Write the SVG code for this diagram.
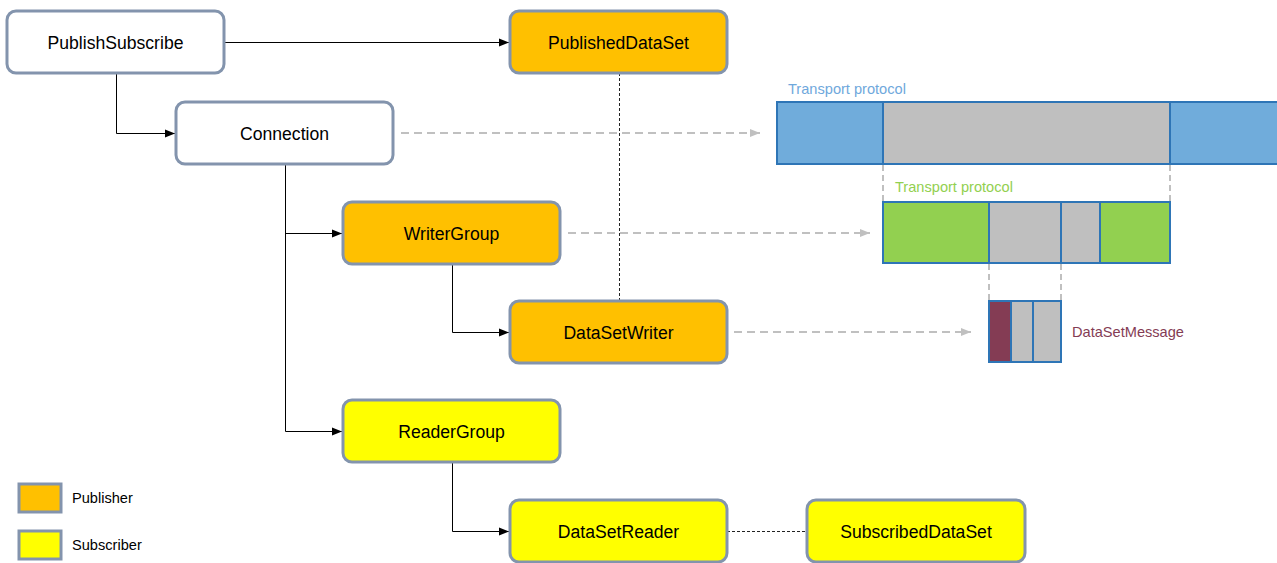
<svg xmlns="http://www.w3.org/2000/svg" width="1277" height="563" viewBox="0 0 1277 563">
  <defs>
    <marker id="arrow" viewBox="0 0 10 10" refX="10" refY="5" markerWidth="10" markerHeight="10" markerUnits="userSpaceOnUse" orient="auto">
      <path d="M0,1 L10,5 L0,9 Z" fill="#000"/>
    </marker>
    <marker id="arrowGray" viewBox="0 0 10 10" refX="10" refY="5" markerWidth="10" markerHeight="10" markerUnits="userSpaceOnUse" orient="auto">
      <path d="M0,1 L10,5 L0,9 Z" fill="#c0c0c0"/>
    </marker>
  </defs>
  <style>
    .node { stroke: #8394ad; stroke-width: 3; }
    .white { fill: #ffffff; }
    .pub { fill: #ffc000; }
    .sub { fill: #ffff00; }
    .label { font-family: "Liberation Sans", Arial, sans-serif; font-size: 17.6px; fill: #000; text-anchor: middle; }
    .small { font-family: "Liberation Sans", Arial, sans-serif; font-size: 14.6px; }
    .link { fill: none; stroke: #000; stroke-width: 1; }
    .assoc { fill: none; stroke: #222; stroke-width: 1; stroke-dasharray: 3 2; }
    .map { fill: none; stroke: #c0c0c0; stroke-width: 2; stroke-dasharray: 8 5; }
    .guide { fill: none; stroke: #c0c0c0; stroke-width: 2; stroke-dasharray: 6 4; }
    .seg { stroke: #2e75b6; stroke-width: 2; }
  </style>

  <rect width="1277" height="563" fill="#ffffff"/>

  <!-- connectors -->
  <g id="connectors">
    <path class="link" d="M224,42.5 H509" marker-end="url(#arrow)"/>
    <path class="link" d="M116.5,73 V133.5 H175" marker-end="url(#arrow)"/>
    <path class="link" d="M285.5,164 V233.5 H342" marker-end="url(#arrow)"/>
    <path class="link" d="M285.5,233 V431.5 H342" marker-end="url(#arrow)"/>
    <path class="link" d="M452.5,264 V332.5 H509" marker-end="url(#arrow)"/>
    <path class="link" d="M452.5,462 V531.5 H509" marker-end="url(#arrow)"/>
    <path class="assoc" d="M619.5,73 V301"/>
    <path class="assoc" d="M727,531.5 H807"/>
    <path class="map" d="M401,133 H760" marker-end="url(#arrowGray)"/>
    <path class="map" d="M568,233 H870" marker-end="url(#arrowGray)"/>
    <path class="map" d="M734,332 H971" marker-end="url(#arrowGray)"/>
  </g>

  <!-- nodes -->
  <g id="publish-subscribe">
    <rect class="node white" x="7" y="11" width="217" height="62" rx="9"/>
    <text class="label" x="115.5" y="49">PublishSubscribe</text>
  </g>
  <g id="published-dataset">
    <rect class="node pub" x="510" y="11" width="217" height="62" rx="9"/>
    <text class="label" x="618.5" y="49">PublishedDataSet</text>
  </g>
  <g id="connection">
    <rect class="node white" x="176" y="102" width="217" height="62" rx="9"/>
    <text class="label" x="284.5" y="140">Connection</text>
  </g>
  <g id="writer-group">
    <rect class="node pub" x="343" y="202" width="217" height="62" rx="9"/>
    <text class="label" x="451.5" y="240">WriterGroup</text>
  </g>
  <g id="dataset-writer">
    <rect class="node pub" x="510" y="301" width="217" height="62" rx="9"/>
    <text class="label" x="618.5" y="339">DataSetWriter</text>
  </g>
  <g id="reader-group">
    <rect class="node sub" x="343" y="400" width="217" height="62" rx="9"/>
    <text class="label" x="451.5" y="438">ReaderGroup</text>
  </g>
  <g id="dataset-reader">
    <rect class="node sub" x="510" y="500" width="217" height="62" rx="9"/>
    <text class="label" x="618.5" y="538">DataSetReader</text>
  </g>
  <g id="subscribed-dataset">
    <rect class="node sub" x="807" y="500" width="218" height="62" rx="9"/>
    <text class="label" x="916" y="538">SubscribedDataSet</text>
  </g>

  <!-- message layering -->
  <g id="transport-frame">
    <text class="small" x="788" y="94" fill="#6fa8dc">Transport protocol</text>
    <rect class="seg" x="777" y="102" width="106" height="62" fill="#70acdb"/>
    <rect class="seg" x="883" y="102" width="287" height="62" fill="#bfbfbf"/>
    <rect class="seg" x="1170" y="102" width="108" height="62" fill="#70acdb"/>
    <path class="guide" d="M883,165 V201 M1170,165 V201"/>
  </g>
  <g id="writer-group-frame">
    <text class="small" x="895" y="192" fill="#92d050">Transport protocol</text>
    <rect class="seg" x="883" y="202" width="106" height="61" fill="#92d050"/>
    <rect class="seg" x="989" y="202" width="72" height="61" fill="#bfbfbf"/>
    <rect class="seg" x="1061" y="202" width="39" height="61" fill="#bfbfbf"/>
    <rect class="seg" x="1100" y="202" width="70" height="61" fill="#92d050"/>
    <path class="guide" d="M989,264 V300 M1061,264 V300"/>
  </g>
  <g id="dataset-message">
    <rect class="seg" x="989" y="301" width="22" height="61" fill="#843c54"/>
    <rect class="seg" x="1011" y="301" width="22" height="61" fill="#bfbfbf"/>
    <rect class="seg" x="1033" y="301" width="28" height="61" fill="#bfbfbf"/>
    <text class="small" x="1072" y="337" fill="#843c54">DataSetMessage</text>
  </g>

  <!-- legend -->
  <g id="legend-publisher">
    <rect class="node pub" x="19" y="484" width="42" height="28"/>
    <text class="small" x="72" y="503" fill="#000">Publisher</text>
  </g>
  <g id="legend-subscriber">
    <rect class="node sub" x="19" y="531" width="42" height="28"/>
    <text class="small" x="72" y="550" fill="#000">Subscriber</text>
  </g>
</svg>
